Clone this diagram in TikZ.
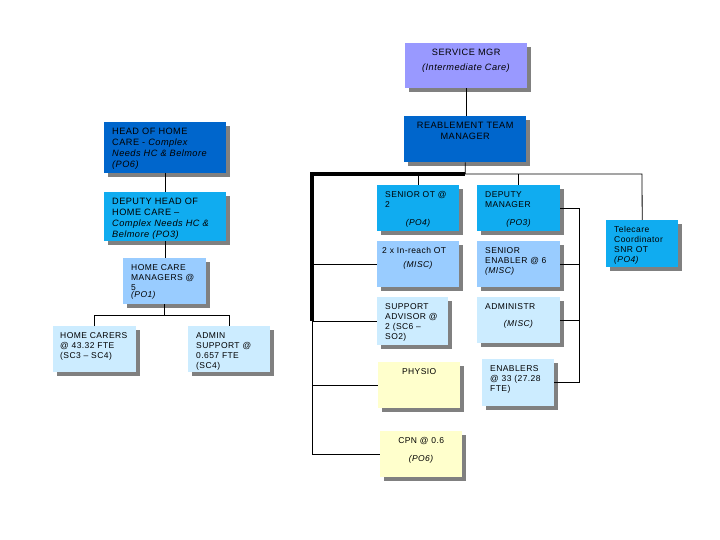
\documentclass[tikz,border=0pt]{standalone}
\usepackage{fontspec}
\setmainfont{Liberation Sans}[LetterSpace=5]
\usetikzlibrary{shadows}

\definecolor{lilac}{RGB}{153,153,255}
\definecolor{navy}{RGB}{0,102,204}
\definecolor{sky}{RGB}{16,172,240}
\definecolor{pale}{RGB}{153,204,255}
\definecolor{ice}{RGB}{204,236,255}
\definecolor{cream}{RGB}{255,255,204}
\definecolor{shade}{RGB}{128,128,128}

\hyphenpenalty=10000
\newcommand{\ctrline}[1]{\hbox to\hsize{\hss#1\hss}}

\tikzset{
  orgbox/.style={anchor=north west, inner xsep=8pt, inner ysep=6pt, align=left,
    font=\fontsize{8.5}{10}\selectfont, text height=6.5pt,
    drop shadow={shadow xshift=4pt, shadow yshift=-4pt, fill=shade, opacity=1}},
  bigtext/.style={font=\fontsize{9.2}{11}\selectfont},
  boxsize/.style 2 args={text width=#1, text depth=#2},
  link/.style={line width=0.8pt},
  trunk/.style={line width=3.2pt},
}

\begin{document}
\begin{tikzpicture}[x=1pt, y=-1pt]
        \useasboundingbox (0,0) rectangle (720,540);

        % top of the tree
        \node[orgbox, bigtext, fill=lilac, align=center, boxsize={106pt}{26.5pt}] (smgr) at (405,43)
          {SERVICE MGR\\[4pt]\textit{(Intermediate Care)}};
        \node[orgbox, bigtext, fill=navy, align=center, boxsize={106pt}{27.5pt}] (rtm) at (404,116)
          {REABLEMENT TEAM\\[-0.5pt]MANAGER};

        % home care column
        \node[orgbox, bigtext, fill=navy, boxsize={106pt}{32.5pt}] (head) at (104,122)
          {HEAD OF HOME\\CARE - \textit{Complex}\\\textit{Needs HC \& Belmore}\\\textit{(PO6)}};
        \node[orgbox, bigtext, fill=sky, boxsize={106pt}{30.5pt}] (dhead) at (104,192)
          {DEPUTY HEAD OF\\HOME CARE --\\\textit{Complex Needs HC \&}\\\textit{Belmore (PO3)}};
        \node[orgbox, fill=pale, boxsize={67pt}{27.5pt}] (hcm) at (123,258)
          {HOME CARE\\MANAGERS~@\\5\\[-3pt]\textit{(PO1)}};
        \node[orgbox, fill=ice, inner xsep=7pt, boxsize={69pt}{27.5pt}] (hcarers) at (53,326)
          {HOME~CARERS\\@~43.32~FTE\\(SC3 -- SC4)};
        \node[orgbox, fill=ice, boxsize={66pt}{27.5pt}] (admin) at (188,326)
          {ADMIN\\SUPPORT~@\\0.657 FTE\\(SC4)};

        % reablement team, first column
        \node[orgbox, fill=sky, boxsize={66pt}{27.5pt}] (senot) at (377,185)
          {SENIOR OT~@\\2\\[7.5pt]\ctrline{\textit{(PO4)}}};
        \node[orgbox, fill=pale, inner xsep=5pt, boxsize={72pt}{27.5pt}] (inreach) at (377,241)
          {2~x~In-reach~OT\\[4pt]\ctrline{\textit{(MISC)}}};
        \node[orgbox, fill=ice, boxsize={55pt}{29.5pt}] (supadv) at (377,297)
          {SUPPORT\\ADVISOR~@\\2 (SC6 --\\SO2)};
        \node[orgbox, fill=cream, align=center, boxsize={66pt}{27.5pt}] (physio) at (378,362)
          {PHYSIO};
        \node[orgbox, fill=cream, align=center, boxsize={66pt}{27.5pt}] (cpn) at (380,431)
          {CPN @ 0.6\\[8pt]\textit{(PO6)}};

        % reablement team, second column
        \node[orgbox, fill=sky, boxsize={67pt}{27.5pt}] (dmgr) at (477,185)
          {DEPUTY\\MANAGER\\[7.5pt]\ctrline{\textit{(PO3)}}};
        \node[orgbox, fill=pale, boxsize={67pt}{27.5pt}] (senen) at (477,241)
          {SENIOR\\ENABLER~@~6\\\textit{(MISC)}};
        \node[orgbox, fill=ice, boxsize={67pt}{27.5pt}] (admn) at (477,297)
          {ADMINISTR\\[6.5pt]\ctrline{\textit{(MISC)}}};
        \node[orgbox, fill=ice, boxsize={56pt}{28.5pt}] (enablers) at (482,359)
          {ENABLERS\\@~33~(27.28\\FTE)};

        \node[orgbox, fill=sky, boxsize={56pt}{28.5pt}] (tele) at (606,220)
          {Telecare\\Coordinator\\SNR OT\\\textit{(PO4)}};

        \coordinate (busL) at (312,174);
        \coordinate (busR) at (642,174);
        \coordinate (rx) at (579,0);
        \path (hcm.south) ++(0,11) coordinate (branch);

        % connectors
        \draw[link] (smgr.south) -- (smgr.south |- rtm.north);
        \draw[link] (rtm.south) -- (rtm.south |- busR) -- (busR) -- (tele.north);
        \draw[trunk] (rtm.south |- busL) -- (busL) -- (busL |- supadv.west);
        \draw[link] (busL |- supadv.west) -- (busL |- cpn.west) -- (cpn.west);
        \draw[link] (busL |- inreach.west) -- (inreach.west);
        \draw[link] (busL |- supadv.west) -- (supadv.west);
        \draw[link] (busL |- physio.west) -- (physio.west);
        \draw[link] (senot.north) -- (senot.north |- busL);
        \draw[link] (dmgr.north) -- (dmgr.north |- busL);

        \draw[link] (dmgr.east) -- (dmgr.east -| rx) -- (rx |- admn.east) -- (admn.east);
        \draw[link] (senen.east) -- (senen.east -| rx);
        \draw[link] (enablers.east) -- (enablers.east -| rx) -- (rx |- senen.east);

        \draw[link] (head.south) -- (head.south |- dhead.north);
        \draw[link] (dhead.south) -- (dhead.south |- hcm.north);
        \draw[link] (hcm.south) -- (branch);
        \draw[link] (hcarers.north) |- (branch) -| (admin.north);
\end{tikzpicture}
\end{document}
